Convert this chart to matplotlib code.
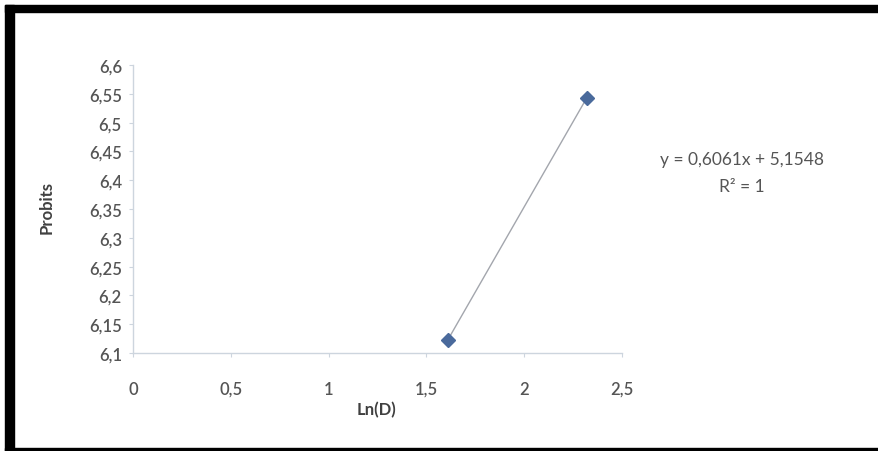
import matplotlib
matplotlib.use("Agg")
import matplotlib.pyplot as plt
from matplotlib.patches import Rectangle
from matplotlib.ticker import FuncFormatter

# values
ln_dose = [1.61, 2.32]
probits = [6.123, 6.543]
x_ticks = [0, 0.5, 1, 1.5, 2, 2.5]
y_ticks = [6.1, 6.15, 6.2, 6.25, 6.3, 6.35, 6.4, 6.45, 6.5, 6.55, 6.6]
equation = "y = 0,6061x + 5,1548"
r2_text = "R² = 1"

plt.rcParams["font.family"] = ["Lato", "DejaVu Sans"]

W, H = 879, 452
fig = plt.figure(figsize=(W / 100, H / 100), dpi=100)
fig.patch.set_facecolor("white")

ax = fig.add_axes([133 / W, (H - 354) / H, 489 / W, 288 / H])
ax.plot(ln_dose, probits, color="#a3a6ad", lw=1.0, zorder=2)
ax.plot(ln_dose, probits, ls="none", marker="D", ms=7, color="#4a6a9c", zorder=3)

ax.set_xlim(x_ticks[0], x_ticks[-1])
ax.set_ylim(y_ticks[0], y_ticks[-1])
ax.set_xticks(x_ticks)
ax.set_yticks(y_ticks)
comma = FuncFormatter(lambda v, _: f"{v:g}".replace(".", ","))
ax.xaxis.set_major_formatter(comma)
ax.yaxis.set_major_formatter(comma)

for side in ["top", "right"]:
    ax.spines[side].set_visible(False)
for side in ["left", "bottom"]:
    ax.spines[side].set_color("#cdd5de")
    ax.spines[side].set_linewidth(1.0)
ax.tick_params(axis="y", direction="out", length=3, width=0.8, color="#cdd5de",
               labelsize=12, labelcolor="#555555", pad=5)
ax.tick_params(axis="x", direction="out", length=3, width=0.8, color="#cdd5de",
               labelsize=12, labelcolor="#555555", pad=17)
for lab in ax.get_xticklabels() + ax.get_yticklabels():
    lab.set_fontweight("semibold")

fig.text(377 / W, 1 - 410 / H, "Ln(D)", ha="center", va="center",
         fontsize=12, fontweight="bold", color="#404040")
fig.text(47 / W, 1 - 208 / H, "Probits", ha="center", va="center", rotation=90,
         fontsize=12, fontweight="bold", color="#404040")
fig.text(742 / W, 1 - 160 / H, equation, ha="center", va="center",
         fontsize=12.5, color="#555555")
fig.text(742 / W, 1 - 187 / H, r2_text, ha="center", va="center",
         fontsize=12.5, color="#555555")

# black frame around the screenshot
for x, y, w, h in [(5, 6, W - 5, 7), (5, 6, 9, H - 6), (5, 449, W - 5, 3)]:
    fig.patches.append(Rectangle((x / W, 1 - (y + h) / H), w / W, h / H,
                                 transform=fig.transFigure, color="black", zorder=10))

fig.savefig("out.png", dpi=100)
